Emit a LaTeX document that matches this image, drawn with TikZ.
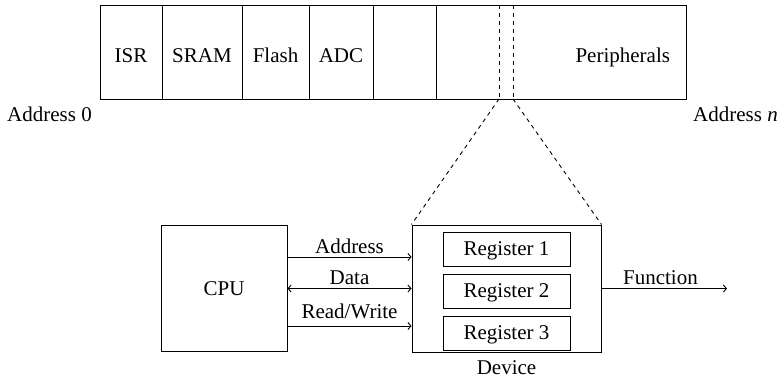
\documentclass[tikz,border=0pt]{standalone}
\usepackage{fontspec}
\setmainfont{Liberation Serif}
\usetikzlibrary{arrows.meta,positioning}

\begin{document}
\begin{tikzpicture}[
  x=1pt, y=-1pt,
  font=\fontsize{21}{25}\selectfont,
  >={Straight Barb[length=3pt,width=7pt]},
  cell/.style={draw, line width=1pt, outer sep=0pt, inner sep=0pt,
               minimum height=94pt, text height=20pt, text depth=0pt},
  unit/.style={draw, line width=1pt},
  reg/.style={draw, line width=1pt, minimum width=127pt, minimum height=34pt,
              text height=15pt, text depth=3pt},
  bus/.style={->, line width=0.9pt},
  zoomline/.style={dash pattern=on 4pt off 4pt, line width=0.9pt},
  node distance=0pt
]
\useasboundingbox (0,0) rectangle (784,380);

% memory map
\node[cell, minimum width=62pt, anchor=north west] (isr) at (100,5) {ISR};
\node[cell, minimum width=80pt, right=of isr] (sram) {SRAM};
\node[cell, minimum width=67pt, right=of sram] (flash) {Flash};
\node[cell, minimum width=64pt, right=of flash] (adc) {ADC};
\node[cell, minimum width=63pt, right=of adc] (blank) {};
\node[cell, minimum width=250pt, right=of blank, text width=218pt,
      align=right, inner xsep=16pt] (periph) {Peripherals};
\node[anchor=base east, inner sep=0pt] (addr0) at (92,121) {Address 0};
\node[anchor=base west, inner sep=0pt] (addrn) at (693,121) {Address \textit{n}};

% selected register window
\coordinate (seltl) at (499,5);
\coordinate (selbl) at (499,99);
\coordinate (seltr) at (513,5);
\coordinate (selbr) at (513,99);
\draw[zoomline] (seltl) -- (selbl);
\draw[zoomline] (seltr) -- (selbr);

% cpu and device
\node[unit, minimum width=126pt, minimum height=126pt] (cpu) at (224,288.5) {CPU};
\node[unit, minimum width=189pt, minimum height=127pt] (dev) at (506.5,288.5) {};
\node[reg] (reg1) at (506.5,249) {Register 1};
\node[reg, below=7pt of reg1] (reg2) {Register 2};
\node[reg, below=7pt of reg2] (reg3) {Register 3};
\node[below=5pt of dev] (devlbl) {Device};
\coordinate (fnend) at (727,288.5);

\draw[zoomline] (selbl) -- (dev.north west);
\draw[zoomline] (selbr) -- (dev.north east);

\draw[bus] ([yshift=31.5pt]cpu.east) -- node[above] {Address} ([yshift=31.5pt]dev.west);
\draw[bus, <->] (cpu.east) -- node[above] {Data} (dev.west);
\draw[bus] ([yshift=-37.5pt]cpu.east) -- node[above=3pt] {Read/Write} ([yshift=-37.5pt]dev.west);
\draw[bus] (dev.east) -- node[above, pos=0.47] {Function} (fnend);
\end{tikzpicture}
\end{document}
